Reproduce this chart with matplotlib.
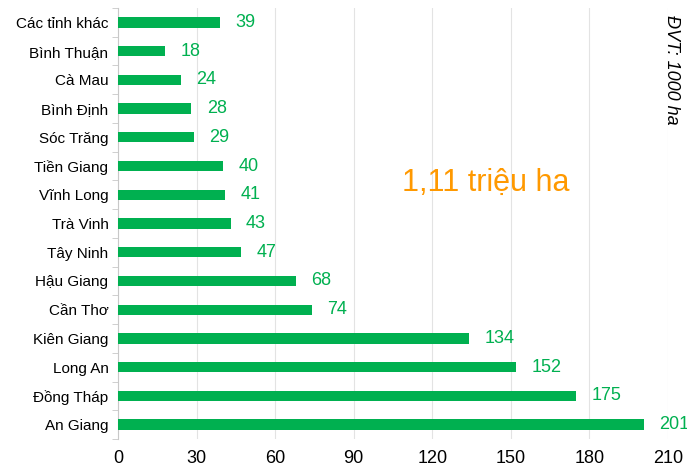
import matplotlib.pyplot as plt
import numpy as np

plt.rcParams['font.family'] = ['Liberation Sans', 'DejaVu Sans']

# data, top to bottom
tinh = ['Các tỉnh khác', 'Bình Thuận', 'Cà Mau', 'Bình Định', 'Sóc Trăng',
        'Tiền Giang', 'Vĩnh Long', 'Trà Vinh', 'Tây Ninh', 'Hậu Giang',
        'Cần Thơ', 'Kiên Giang', 'Long An', 'Đồng Tháp', 'An Giang']
dien_tich = [39, 18, 24, 28, 29, 40, 41, 43, 47, 68, 74, 134, 152, 175, 201]
xticks = [0, 30, 60, 90, 120, 150, 180, 210]

green = '#00B050'

fig = plt.figure(figsize=(6.87, 4.69), dpi=100)
ax = fig.add_axes([0.172, 0.064, 0.8, 0.919])

y = np.arange(len(tinh))
ax.barh(y, dien_tich, height=0.36, color=green, zorder=3)
for yi, v in zip(y, dien_tich):
    ax.annotate(str(v), (v, yi), xytext=(11, 0), textcoords='offset points',
                va='center', ha='left', color=green, fontsize=13,
                annotation_clip=False)

ax.set_xlim(0, 210)
ax.set_ylim(len(tinh) - 0.5, -0.5)
ax.set_xticks(xticks)
ax.tick_params(axis='x', length=0, labelsize=13, pad=8)
ax.grid(axis='x', color='#e3e3e3', linewidth=0.8, zorder=0)

ax.set_yticks(y)
ax.set_yticklabels(tinh, fontsize=11)
ax.set_yticks(np.arange(len(tinh) + 1) - 0.5, minor=True)
ax.tick_params(axis='y', which='major', length=0, pad=7)
ax.tick_params(axis='y', which='minor', length=4, color='#c8c8c8', direction='out')

for s in ['top', 'right', 'bottom']:
    ax.spines[s].set_visible(False)
ax.spines['left'].set_color('#c8c8c8')

fig.text(0.707, 0.61, '1,11 triệu ha', color='#FF9900', fontsize=22,
         ha='center', va='center')
fig.text(0.978, 0.968, 'ĐVT: 1000 ha', rotation=-90, style='italic',
         fontsize=13, ha='center', va='top')

fig.savefig('out.png', dpi=100)
